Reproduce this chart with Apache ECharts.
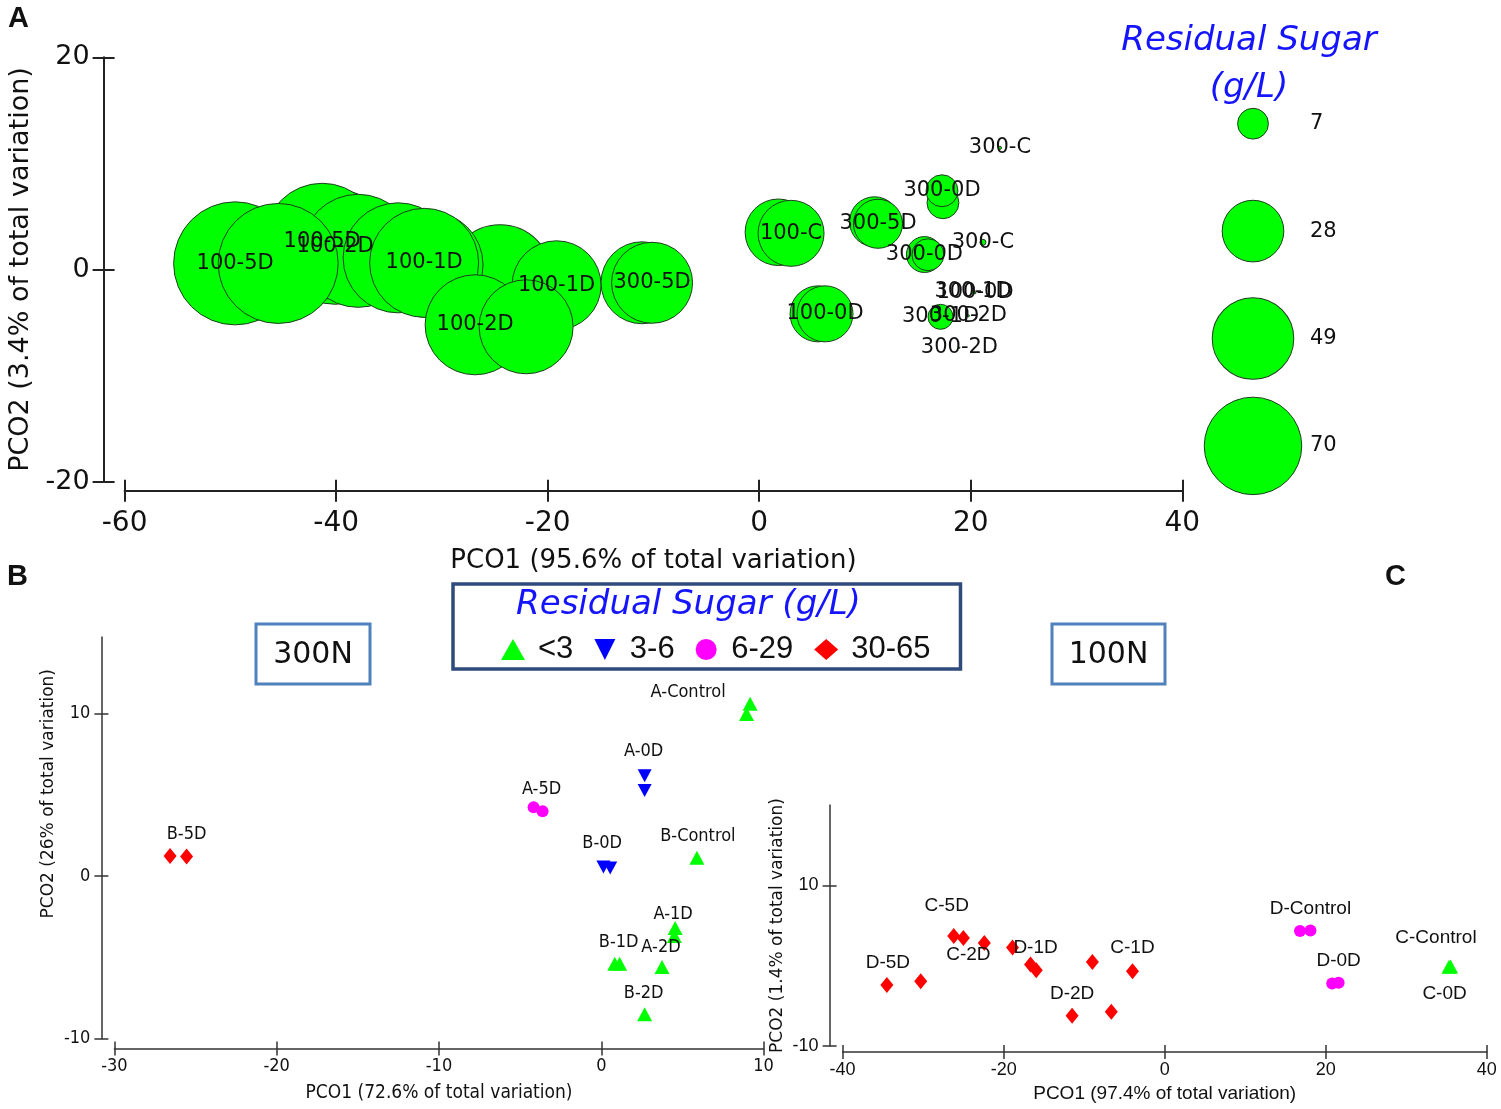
<!DOCTYPE html>
<html><head><meta charset="utf-8">
<script src="https://cdn.jsdelivr.net/npm/echarts@6/dist/echarts.min.js"></script>
<style>html,body{margin:0;padding:0;background:#fff}#c{width:1501px;height:1109px}</style>
</head><body><div id="c"></div>
<script>
// ---------------- DATA ----------------
// Panel A: PCO bubble plot (bubble area ~ residual sugar, g/L)
const aX = [-40.09,-41.32,-37.92,-34.14,-49.55,-45.48,-24.5,-31.12,-31.68,-19.16,-26.86,-22.04,-11.08,-10.13,
            1.81,3.01,10.90,11.23,17.37,17.28,15.62,15.95,21.15,22.76,5.56,6.22,17.14,20.21,20.40,19.78,18.93];
const aY = [2.14,2.66,1.76,1.10,0.58,0.57,-0.69,0.44,0.63,-1.49,-5.21,-5.40,-1.25,-1.25,
            3.51,3.41,4.50,4.31,6.29,7.42,1.41,1.39,2.56,11.47,-4.18,-4.18,-4.46,-2.10,-2.20,-4.36,-7.38];
const aSugar = [97.4,99.1,94.1,89.2,111.5,106.1,79.7,82.8,87.5,58.4,73.7,65.1,49.5,48.3,
                32.6,32.1,18.4,17.7,7.5,7.5,9.5,7.5,0.27,0.07,23.1,23.1,4.6,0.07,0.03,0.03,0.01];
const aLabels = ['100-2D','100-5D','','','100-5D','','','','100-1D','100-1D','100-2D','','','300-5D',
                 '','100-C','','300-5D','','300-0D','300-0D','','300-C','300-C','','100-0D','300-1D','300-1D','100-0D','300-2D','300-2D'];
const aSizeLegend = [7, 28, 49, 70];
const aXTicks = [-60,-40,-20,0,20,40];
const aYTicks = [-20,0,20];

// Panel B (300N)
const bX = [-26.57,-25.55,-4.17,-3.62,2.67,2.67,0.13,0.55,5.89,8.95,9.17,4.55,4.50,0.83,1.13,3.74,2.67];
const bY = [1.23,1.19,4.23,3.98,6.16,5.25,0.55,0.49,1.12,9.96,10.6,-3.2,-3.7,-5.4,-5.4,-5.6,-8.51];
const bClass = ['30-65','30-65','6-29','6-29','3-6','3-6','3-6','3-6','<3','<3','<3','<3','<3','<3','<3','<3','<3'];
const bLabels = ['','B-5D','','A-5D','A-0D','','','B-0D','B-Control','','A-Control','A-1D','','','B-1D','A-2D','B-2D'];
const bXTicks = [-30,-20,-10,0,10];
const bYTicks = [-10,0,10];

// Panel C (100N)
const cX = [-34.5,-30.3,-26.2,-25.0,-22.4,-18.9,-16.66,-15.95,-8.98,-4.0,-11.5,-6.63,16.8,18.1,20.8,21.6,35.3,35.5];
const cY = [-2.42,-1.93,3.7,3.45,2.83,2.26,0.15,-0.56,0.47,-0.68,-6.23,-5.74,4.32,4.37,-2.21,-2.14,-0.15,-0.1];
const cClass = ['30-65','30-65','30-65','30-65','30-65','30-65','30-65','30-65','30-65','30-65','30-65','30-65','6-29','6-29','6-29','6-29','<3','<3'];
const cLabels = ['D-5D','','C-5D','','C-2D','','D-1D','','','C-1D','D-2D','','','D-Control','','D-0D','C-Control','C-0D'];
const cXTicks = [-40,-20,0,20,40];
const cYTicks = [-10,10];

const sugarClasses = ['<3','3-6','6-29','30-65'];

// ---------------- LAYOUT / STYLE ----------------
const bLabelOffsets = [null,[0,-22],null,[-1,-22],[-1,-24],null,null,[-8,-25],[1,-21],null,[-62,-11],[-2,-14],null,null,[-1,-21],[-1,-20],[-1,-21]];
const cLabelOffsets = [[1,-22],null,[-7,-30],null,[-16,12],null,[5,-17],null,null,[0,-23],[0,-22],null,null,[0,-22],null,[0,-22],[-13,-29],[-6,27]];

const FONT = '"DejaVu Sans", Verdana, sans-serif';
const COND = '"DejaVu Sans Condensed", "Liberation Sans Narrow", "DejaVu Sans", sans-serif';
const ARIAL = '"Liberation Sans", Arial, sans-serif';
const classStyle = {
  '<3':   {symbol:'triangle', rotate:0,   size:[15,14], color:'#00ff00'},
  '3-6':  {symbol:'triangle', rotate:180, size:[14,13], color:'#0000ff'},
  '6-29': {symbol:'circle',   rotate:0,   size:12,      color:'#ff00ff'},
  '30-65':{symbol:'diamond',  rotate:0,   size:[13,16], color:'#ff0000'}
};
const BUBBLE_K = 11.65; // px diameter per sqrt(g/L)

function axisPair(dim, gi, o) {
  const lineStyle = {color:o.color, width:o.width};
  const common = {type:'value', gridIndex:gi, min:o.min, max:o.max, offset:o.offset,
    position: dim==='x' ? 'bottom' : 'left', splitLine:{show:false}, silent:true};
  const main = Object.assign({}, common, {
    axisLine:{show:true, onZero:false, lineStyle},
    axisTick:{show:true, length:o.tick, lineStyle, customValues:o.ticks},
    axisLabel:{show:true, margin:o.margin, fontSize:o.fs, fontFamily:o.ff, color:'#111', customValues:o.ticks},
    name:o.name, nameLocation:'middle', nameGap:o.nameGap,
    nameTextStyle:{fontSize:o.nfs, fontFamily:o.nff, color:'#111', padding:o.npad||0}
  });
  const dup = Object.assign({}, common, {
    axisLine:{show:false, onZero:false},
    axisTick:{show:true, inside:true, length:o.tick, lineStyle, customValues:o.ticks},
    axisLabel:{show:false}
  });
  return [main, dup];
}

const xAxes = [].concat(
  axisPair('x',0,{min:-60,max:40,ticks:aXTicks,offset:9,color:'#222',width:2,tick:11,margin:19,fs:28,ff:FONT,
    name:'PCO1 (95.6% of total variation)',nameGap:58,nfs:26,nff:FONT}),
  axisPair('x',1,{min:-30,max:10,ticks:bXTicks,offset:10,color:'#333',width:1.5,tick:7,margin:9,fs:18,ff:COND,
    name:'PCO1 (72.6% of total variation)',nameGap:35,nfs:19,nff:COND}),
  axisPair('x',2,{min:-40,max:40,ticks:cXTicks,offset:6,color:'#333',width:1.5,tick:7,margin:9,fs:18,ff:ARIAL,
    name:'PCO1 (97.4% of total variation)',nameGap:32,nfs:19,nff:ARIAL}),
  [{type:'value', gridIndex:3, min:-1, max:1, show:false}]
);
const yAxes = [].concat(
  axisPair('y',0,{min:-20,max:20,ticks:aYTicks,offset:21,color:'#222',width:2,tick:11,margin:14,fs:27,ff:FONT,
    name:'PCO2 (3.4% of total variation)',nameGap:68,nfs:27,nff:FONT}),
  axisPair('y',1,{min:-10,max:14.7,ticks:bYTicks,offset:13,color:'#333',width:1.5,tick:7,margin:11,fs:18,ff:COND,
    name:'PCO2 (26% of total variation)',nameGap:44,nfs:17,nff:FONT,npad:[0,0,0,88]}),
  axisPair('y',2,{min:-10,max:20,ticks:cYTicks,offset:13,color:'#333',width:1.5,tick:7,margin:11,fs:18,ff:ARIAL,
    name:'PCO2 (1.4% of total variation)',nameGap:44,nfs:17,nff:FONT}),
  [{type:'category', gridIndex:3, data:aSizeLegend.map(String), inverse:true, show:false}]
);

function classSeries(xs, ys, cls, labels, offsets, xi, yi, ff, fs) {
  return sugarClasses.map(c => {
    const st = classStyle[c];
    const idx = xs.map((_, i) => i).filter(i => cls[i] === c);
    return {
      type:'scatter', name:c, xAxisIndex:xi, yAxisIndex:yi, silent:true,
      symbol:st.symbol, symbolRotate:st.rotate, symbolSize:st.size,
      itemStyle:{color:st.color, borderWidth:0, opacity:1},
      label:{show:true, position:'inside', color:'#111', fontFamily:ff, fontSize:fs},
      data: idx.map(i => ({value:[xs[i], ys[i]],
        label:{show: labels[i] !== '', formatter: labels[i] || ' ', offset: offsets[i] || [0,0]}}))
    };
  });
}

const series = [
  {
    type:'scatter', name:'bubbles', xAxisIndex:0, yAxisIndex:0, silent:true,
    symbolSize: v => BUBBLE_K * Math.sqrt(v[2]),
    itemStyle:{color:'#00ff00', borderColor:'#1f3d1f', borderWidth:1, opacity:1},
    label:{show:true, position:'inside', color:'#111', fontFamily:FONT, fontSize:21},
    data: aX.map((x, i) => ({value:[x, aY[i], aSugar[i]],
      label:{show: aLabels[i] !== '', formatter: aLabels[i] || ' '}}))
  },
  {
    type:'scatter', name:'sizeLegend', xAxisIndex:6, yAxisIndex:6, silent:true,
    symbolSize: v => BUBBLE_K * Math.sqrt(v[2]),
    itemStyle:{color:'#00ff00', borderColor:'#1f3d1f', borderWidth:1, opacity:1},
    label:{show:true, position:'inside', align:'left', offset:[57,0], color:'#111', fontFamily:FONT, fontSize:21,
      formatter: p => String(p.value[2])},
    data: aSizeLegend.map((v, i) => [0, i, v])
  }
].concat(
  classSeries(bX, bY, bClass, bLabels, bLabelOffsets, 2, 2, COND, 18),
  classSeries(cX, cY, cClass, cLabels, cLabelOffsets, 4, 4, ARIAL, 19)
);

const option = {
  animation:false,
  backgroundColor:'#ffffff',
  textStyle:{fontFamily:FONT},
  grid:[
    {left:124.6, top:57.3, width:1057.7, height:424.4, containLabel:false, outerBoundsMode:'none'},
    {left:114.4, top:637, width:649.2, height:401.4, containLabel:false, outerBoundsMode:'none'},
    {left:842.6, top:805, width:644.2, height:241, containLabel:false, outerBoundsMode:'none'},
    {left:1203, top:70, width:100, height:429.6, containLabel:false, outerBoundsMode:'none'}
  ],
  xAxis:xAxes,
  yAxis:yAxes,
  legend:{
    data:[{name:'<3', icon:'triangle'},{name:'3-6', icon:'path://M0,0L20,0L10,20Z'},{name:'6-29', icon:'circle'},{name:'30-65', icon:'diamond'}],
    left:453, top:584, orient:'horizontal', selectedMode:false,
    padding:[50,30,4,48], itemGap:21, itemWidth:24, itemHeight:21,
    borderColor:'#2f4b7c', borderWidth:3.5, backgroundColor:'#fff',
    textStyle:{fontSize:31, fontFamily:ARIAL, color:'#111', padding:[0,0,0,8]}
  },
  graphic:[
    {type:'text', left:8, top:4, style:{text:'A', font:'bold 29px "Liberation Sans", Arial, sans-serif', fill:'#111'}},
    {type:'text', left:7, top:562, style:{text:'B', font:'bold 29px "Liberation Sans", Arial, sans-serif', fill:'#111'}},
    {type:'text', left:1385, top:562, style:{text:'C', font:'bold 29px "Liberation Sans", Arial, sans-serif', fill:'#111'}},
    {type:'text', x:1249, y:41, style:{text:'Residual Sugar', font:'italic 34px "DejaVu Sans", sans-serif', fill:'#1414ff', align:'center', verticalAlign:'middle'}},
    {type:'text', x:1249, y:88, style:{text:'(g/L)', font:'italic 34px "DejaVu Sans", sans-serif', fill:'#1414ff', align:'center', verticalAlign:'middle'}},
    {type:'text', x:688.5, y:605, z:100, style:{text:'Residual Sugar (g/L)', font:'italic 34px "DejaVu Sans", sans-serif', fill:'#1414ff', align:'center', verticalAlign:'middle'}},
    {type:'rect', shape:{x:256, y:624, width:114, height:60}, style:{fill:'#fff', stroke:'#4f81bd', lineWidth:3}},
    {type:'text', x:313, y:655, style:{text:'300N', font:'30px "DejaVu Sans", sans-serif', fill:'#111', align:'center', verticalAlign:'middle'}},
    {type:'rect', shape:{x:1052, y:624, width:113, height:60}, style:{fill:'#fff', stroke:'#4f81bd', lineWidth:3}},
    {type:'text', x:1108.5, y:655, style:{text:'100N', font:'30px "DejaVu Sans", sans-serif', fill:'#111', align:'center', verticalAlign:'middle'}}
  ],
  series:series
};

const chart = echarts.init(document.getElementById('c'), null, {renderer:'canvas'});
chart.setOption(option);
</script>
</body></html>
